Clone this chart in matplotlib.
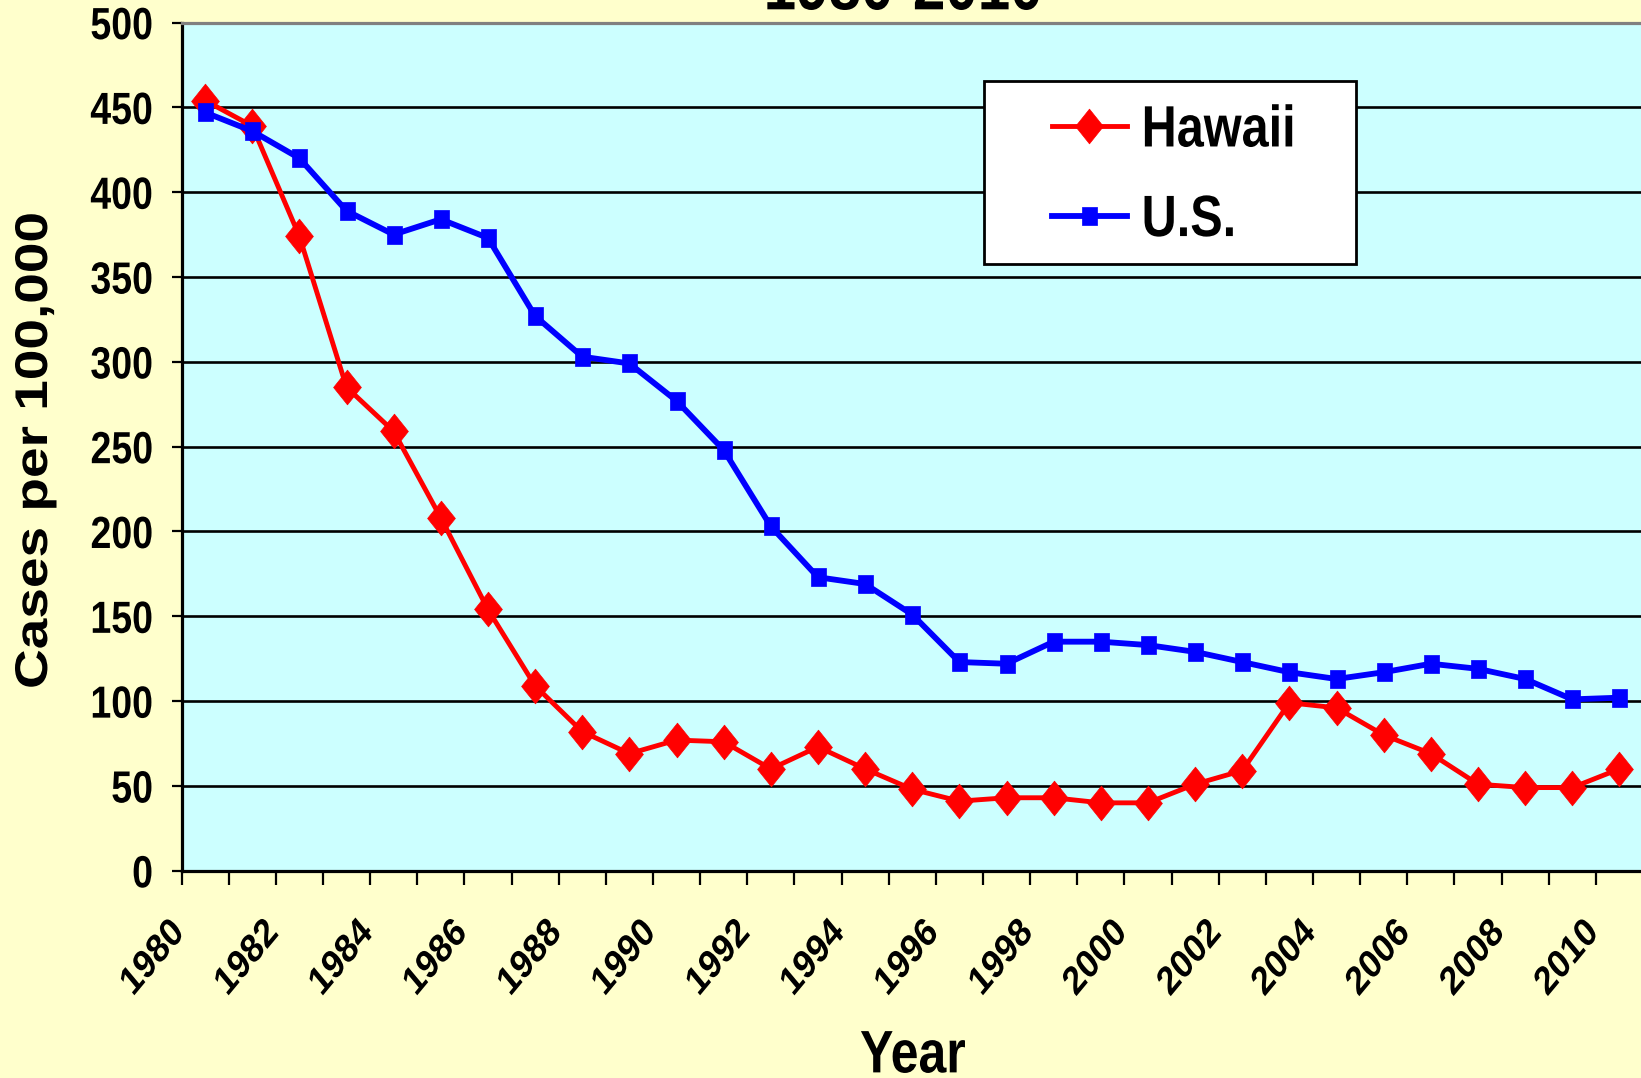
import matplotlib
matplotlib.use("Agg")
import matplotlib.pyplot as plt
from matplotlib.patheffects import AbstractPathEffect
from matplotlib.transforms import Affine2D, ScaledTranslation
from matplotlib.patches import Rectangle
from matplotlib.path import Path

years = list(range(1980, 2011))
hawaii = [454, 439, 374, 285, 259, 208, 154, 109, 82, 69, 77, 76, 60, 73, 60, 48,
          41, 43, 43, 40, 40, 51, 59, 99, 96, 80, 69, 51, 49, 49, 60]
us = [447, 436, 420, 389, 375, 384, 373, 327, 303, 299, 277, 248, 203, 173, 169, 151,
      123, 122, 135, 135, 133, 129, 123, 117, 113, 117, 122, 119, 113, 101, 102]
yticks = list(range(0, 501, 50))
xlabels = [str(y) for y in years[::2]]

FONT = "Liberation Sans"
SY = 1.2  # the reference is drawn slightly taller than wide


class VStretch(AbstractPathEffect):
    """Draws text stretched vertically about its own centre."""
    def __init__(self, sy):
        super().__init__()
        self.sy = sy

    def draw_path(self, renderer, gc, tpath, affine, rgbFace=None):
        ext = tpath.get_extents(affine)
        cy = 0.5 * (ext.y0 + ext.y1)
        t = affine + Affine2D().translate(0, -cy).scale(1, self.sy).translate(0, cy)
        renderer.draw_path(gc, tpath, t, rgbFace)


stretch = [VStretch(SY)]

# tall markers (diamond / square) like the stretched reference
diamond = Path([(0, 1.0), (0.8, 0), (0, -1.0), (-0.8, 0), (0, 1.0)],
               [Path.MOVETO, Path.LINETO, Path.LINETO, Path.LINETO, Path.CLOSEPOLY])
square = Path([(-0.8, -1), (0.8, -1), (0.8, 1), (-0.8, 1), (-0.8, -1)],
              [Path.MOVETO, Path.LINETO, Path.LINETO, Path.LINETO, Path.CLOSEPOLY])

W, H = 1641, 1078
fig = plt.figure(figsize=(W / 100, H / 100), dpi=100, facecolor="#FFFFCC")
L, R, T, B = 181.5, 1643, 22.5, 870.7
ax = fig.add_axes([L / W, 1 - B / H, (R - L) / W, (B - T) / H])
ax.set_facecolor("#CCFFFF")

x = list(range(len(years)))
h_line, = ax.plot(x, hawaii, color="#FF0000", lw=3.5, marker=diamond, ms=25,
                  mec="#FF0000", mfc="#FF0000", mew=0.5, label="Hawaii",
                  zorder=3, clip_on=False)
u_line, = ax.plot(x, us, color="#0000FF", lw=4.2, marker=square, ms=13.5,
                  mec="#0000FF", mfc="#0000FF", mew=0.5, label="U.S.",
                  zorder=4, clip_on=False)

ax.set_xlim(-0.5, len(years) - 0.5)
ax.set_ylim(0, 500)
ax.set_yticks(yticks)
ax.set_yticklabels([str(v) for v in yticks], fontfamily=FONT, fontweight="bold", fontsize=27)
ax.yaxis.grid(True, color="black", lw=1.9, zorder=1)
ax.set_axisbelow(True)
ax.tick_params(axis="y", length=7, width=1.6, direction="out", pad=13.5, colors="black")

ax.set_xticks(x[::2])
ax.set_xticklabels(xlabels, fontfamily=FONT, fontweight="bold", fontsize=24,
                   rotation=45, ha="center", va="center", rotation_mode="anchor")
ax.set_xticks([i - 0.5 for i in range(len(years) + 1)], minor=True)
ax.tick_params(axis="x", which="major", length=0, pad=63)
ax.tick_params(axis="x", which="minor", length=10, width=1.6, direction="out")
off = ScaledTranslation(-0.52, 0, fig.dpi_scale_trans)
for lab in ax.get_xticklabels():
    lab.set_transform(lab.get_transform() + off)
    lab.set_path_effects(stretch)
for lab in ax.get_yticklabels():
    lab.set_path_effects(stretch)

for s in ["left", "bottom"]:
    ax.spines[s].set_linewidth(2.3)
    ax.spines[s].set_color("black")
ax.spines["top"].set_color("#808080")
ax.spines["top"].set_linewidth(2.3)
ax.spines["right"].set_visible(False)

t1 = fig.text(13 / W, 1 - 450 / H, "Cases per 100,000", rotation=90, ha="left", va="center",
              fontfamily=FONT, fontweight="bold", fontsize=33)
t2 = fig.text(913 / W, 1 - 1056 / H, "Year", ha="center", va="center",
              fontfamily=FONT, fontweight="bold", fontsize=36)
t3 = fig.text(903 / W, 1 - 5.3 / H, "1980-2010", ha="center", va="baseline",
              fontfamily=FONT, fontweight="bold", fontsize=42)
for t in (t1, t2, t3):
    t.set_path_effects(stretch)

# legend box and legend
frame = Rectangle((984 / W, 1 - 264 / H), (1356 - 984) / W, (264 - 81) / H,
                  transform=fig.transFigure, facecolor="white", edgecolor="black",
                  lw=2.0, zorder=5)
fig.add_artist(frame)
leg = fig.legend(handles=[h_line, u_line], labels=["Hawaii", "U.S."],
                 loc="upper left", bbox_to_anchor=(1051.7 / W, 1 - 108 / H),
                 bbox_transform=fig.transFigure, borderaxespad=0, borderpad=0,
                 prop={"family": FONT, "weight": "bold", "size": 35},
                 frameon=False, handlelength=1.54, handletextpad=0.31,
                 labelspacing=0.92)
leg.set_zorder(6)
for t in leg.get_texts():
    t.set_path_effects(stretch)

fig.savefig("out.png", dpi=100, facecolor=fig.get_facecolor())
